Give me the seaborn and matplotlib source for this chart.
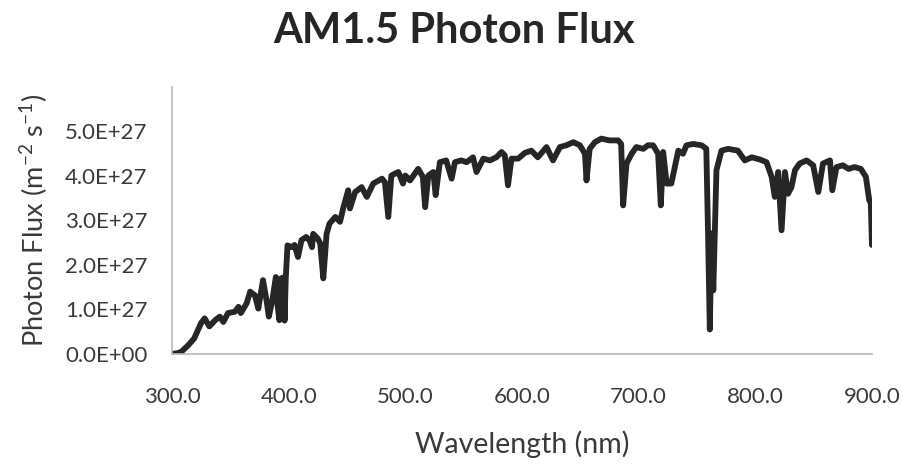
import numpy as np
import matplotlib
matplotlib.use("Agg")
import matplotlib.pyplot as plt
from matplotlib.ticker import FuncFormatter, FixedLocator
import seaborn as sns

# AM1.5 spectral photon flux, wavelength in nm, flux in units of 1e27 m^-2 s^-1
wavelength_nm = [
    300, 305, 308, 314, 319, 325, 328, 332, 337, 341, 344, 348, 354, 357, 359,
    364, 367, 371, 374, 378, 381, 383, 386, 389, 390.5, 392, 393.5, 394.5,
    395.5, 396.5, 397.5, 399, 402.6, 405, 408, 411, 415, 418, 420, 421, 425,
    427, 429.7, 432.5, 435, 440, 444, 447, 451, 452.5, 457, 462.5, 467, 472.5,
    480, 482.5, 485.4, 488, 494, 498, 500, 504, 511, 515, 517, 519.7, 524,
    526, 529.6, 535, 539.7, 542.5, 548, 552.5, 558, 561, 566.8, 572.5, 578,
    582.5, 585.3, 588, 591, 596.7, 602.5, 608, 613.6, 621, 626.6, 632.5, 638,
    644, 649.6, 654, 655.3, 658, 662.5, 668, 675, 682.4, 685, 686.7, 689.6,
    694, 698, 704, 708, 712.4, 716.7, 719, 721, 724, 728, 731, 734, 738, 741,
    746.7, 754, 758, 759.5, 761, 762.5, 764, 766.7, 771, 776.7, 785, 791, 797,
    804, 809.6, 814, 816.7, 819.6, 822.5, 825.4, 828, 831, 834, 838, 844,
    849.6, 854, 858, 864, 866, 869.6, 875, 880, 885, 890.5, 894.8, 897.7, 899,
    899.5, 900,
]
flux_1e27 = [
    0.0, 0.02, 0.05, 0.2, 0.35, 0.7, 0.8, 0.62, 0.76, 0.84, 0.72, 0.92, 0.95,
    1.06, 0.92, 1.14, 1.4, 1.32, 1.02, 1.66, 1.21, 0.84, 1.21, 1.73, 1.1,
    0.76, 1.7, 0.9, 1.72, 0.75, 1.7, 2.44, 2.4, 2.45, 2.18, 2.56, 2.63, 2.55,
    2.4, 2.7, 2.59, 2.49, 1.7, 2.7, 2.93, 3.08, 2.97, 3.3, 3.68, 3.27, 3.64,
    3.75, 3.53, 3.83, 3.94, 3.86, 3.08, 4.01, 4.09, 3.83, 4.01, 3.9, 4.16,
    3.98, 3.3, 4.01, 4.09, 3.57, 4.31, 4.35, 3.94, 4.31, 4.35, 4.31, 4.42,
    4.09, 4.39, 4.35, 4.42, 4.54, 4.46, 3.79, 4.39, 4.39, 4.52, 4.57, 4.42,
    4.65, 4.35, 4.65, 4.69, 4.76, 4.69, 4.5, 3.9, 4.61, 4.76, 4.84, 4.8, 4.8,
    4.72, 3.34, 4.28, 4.5, 4.65, 4.61, 4.69, 4.69, 4.5, 3.34, 4.54, 3.83,
    3.83, 4.2, 4.57, 4.5, 4.69, 4.72, 4.69, 4.61, 2.7, 0.55, 2.71, 1.43, 4.13,
    4.57, 4.61, 4.57, 4.35, 4.42, 4.37, 4.31, 3.98, 3.53, 4.09, 2.78, 4.09,
    3.6, 3.75, 4.13, 4.28, 4.35, 4.24, 3.64, 4.28, 4.35, 3.68, 4.2, 4.24,
    4.16, 4.2, 4.16, 3.98, 3.45, 3.4, 2.9, 2.45,
]
x_ticks = [300, 400, 500, 600, 700, 800, 900]
y_ticks = [0.0, 1.0e27, 2.0e27, 3.0e27, 4.0e27, 5.0e27]

sns.set_theme(style="white")
plt.rcParams["font.family"] = ["Lato", "DejaVu Sans"]
plt.rcParams["mathtext.fontset"] = "custom"
plt.rcParams["mathtext.rm"] = "Lato"
plt.rcParams["mathtext.it"] = "Lato:italic"
plt.rcParams["mathtext.bf"] = "Lato:bold"

text_color = "#3a3a3a"
axis_color = "#b9b9b9"

fig = plt.figure(figsize=(9.02, 4.67), dpi=100)
ax = fig.add_axes([0.1907, 0.242, 0.776, 0.5717])

flux = np.asarray(flux_1e27) * 1e27
sns.lineplot(x=wavelength_nm, y=flux, ax=ax, color="#262626",
             linewidth=4.2, solid_joinstyle="round", solid_capstyle="round")

ax.set_xlim(300, 900)
ax.set_ylim(0, 6.0e27)
ax.xaxis.set_major_locator(FixedLocator(x_ticks))
ax.yaxis.set_major_locator(FixedLocator(y_ticks))
ax.xaxis.set_major_formatter(FuncFormatter(lambda v, p: f"{v:.1f}"))
ax.yaxis.set_major_formatter(FuncFormatter(lambda v, p: f"{v:.1E}"))

for side in ("top", "right"):
    ax.spines[side].set_visible(False)
for side in ("left", "bottom"):
    ax.spines[side].set_color(axis_color)
    ax.spines[side].set_linewidth(1.2)

ax.tick_params(axis="both", which="major", direction="out", length=5.5,
               width=1.0, color=axis_color, labelsize=16, labelcolor=text_color)
ax.tick_params(axis="x", pad=18)
ax.tick_params(axis="y", pad=12)

ax.set_xlabel("Wavelength (nm)", fontsize=20.5, color=text_color, labelpad=17)
ax.set_ylabel(r"Photon Flux (m$^{-2}$ s$^{-1}$)", fontsize=19.5,
              color=text_color, labelpad=11)
fig.suptitle("AM1.5 Photon Flux", fontsize=30, fontweight="bold",
             color="#262626", x=0.503, y=0.975)

fig.savefig("out.png", dpi=100, facecolor="white")
